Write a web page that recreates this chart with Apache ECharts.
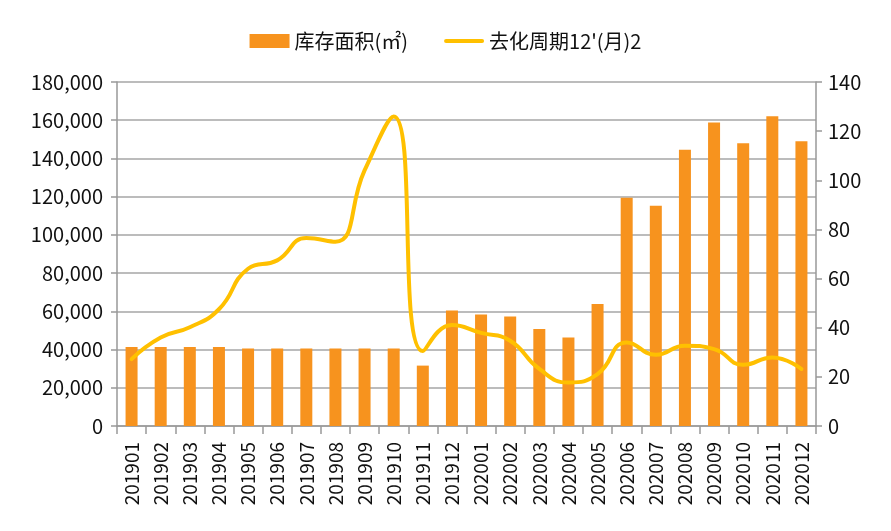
<!DOCTYPE html>
<html><head><meta charset="utf-8">
<script src="https://cdn.jsdelivr.net/npm/echarts@6/dist/echarts.min.js"></script>
<style>html,body{margin:0;padding:0;background:#fff}#c{width:891px;height:531px}</style>
</head><body><div id="c"></div>
<script>
const categories = ['201901','201902','201903','201904','201905','201906','201907','201908','201909','201910','201911','201912','202001','202002','202003','202004','202005','202006','202007','202008','202009','202010','202011','202012'];
const inventoryArea = [41300,41300,41300,41300,40500,40500,40500,40500,40500,40500,31600,60500,58300,57300,50800,46300,63900,119400,115200,144600,158800,148000,162100,149000];
const sellCycle = [27.2,36,40.2,47.5,64,67.4,76.5,75,104,126,30.5,41.1,37.9,34.7,23.2,17.7,21.1,34,29,32.7,31.3,24.9,27.9,23.2];
const leftTicks = {min:0, max:180000, interval:20000};
const rightTicks = {min:0, max:140, interval:20};
const seriesNames = ['库存面积(㎡)', "去化周期12'(月)2"];

const font = '"Noto Sans CJK SC", "Noto Sans", sans-serif';
const chart = echarts.init(document.getElementById('c'), null, {renderer:'canvas'});
chart.setOption({
  animation:false,
  textStyle:{fontFamily:font},
  legend:{
    top:26, left:'center', itemGap:36, itemWidth:40, itemHeight:14,
    textStyle:{fontSize:20, color:'#111', fontFamily:font},
    data:[{name:seriesNames[0], icon:'rect'},
          {name:seriesNames[1], icon:'path://M2,0 L38,0 A2,2 0 0 1 38,4 L2,4 A2,2 0 0 1 2,0 Z'}]
  },
  grid:{left:117, right:75, top:82, bottom:105, containLabel:false},
  xAxis:{
    type:'category', data:categories, boundaryGap:true,
    axisLine:{lineStyle:{color:'#999', width:1.5}},
    axisTick:{show:true, length:8, lineStyle:{color:'#999', width:1.5}},
    axisLabel:{rotate:90, fontSize:19, color:'#111', margin:16, fontFamily:font}
  },
  yAxis:[{
    type:'value', min:leftTicks.min, max:leftTicks.max, interval:leftTicks.interval,
    axisLine:{show:true, lineStyle:{color:'#999', width:1.5}},
    axisTick:{show:true, inside:false, length:6, lineStyle:{color:'#999', width:1.5}},
    splitLine:{lineStyle:{color:'#A6A6A6', width:1.5}},
    axisLabel:{fontSize:20, color:'#111', margin:14, fontFamily:font,
      formatter:v=>v.toLocaleString('en-US')}
  },{
    type:'value', min:rightTicks.min, max:rightTicks.max, interval:rightTicks.interval,
    axisLine:{show:true, lineStyle:{color:'#999', width:1.5}},
    axisTick:{show:true, length:6, lineStyle:{color:'#999', width:1.5}},
    splitLine:{show:false},
    axisLabel:{fontSize:20, color:'#111', margin:12, fontFamily:font}
  }],
  series:[{
    name:seriesNames[0], type:'bar', data:inventoryArea, barWidth:12,
    itemStyle:{color:'#F7931E'}, yAxisIndex:0
  },{
    name:seriesNames[1], type:'line', data:sellCycle, yAxisIndex:1, smooth:0.5,
    symbol:'none', lineStyle:{color:'#FFC000', width:4, cap:'round'}, itemStyle:{color:'#FFC000'}
  }]
});
</script></body></html>
